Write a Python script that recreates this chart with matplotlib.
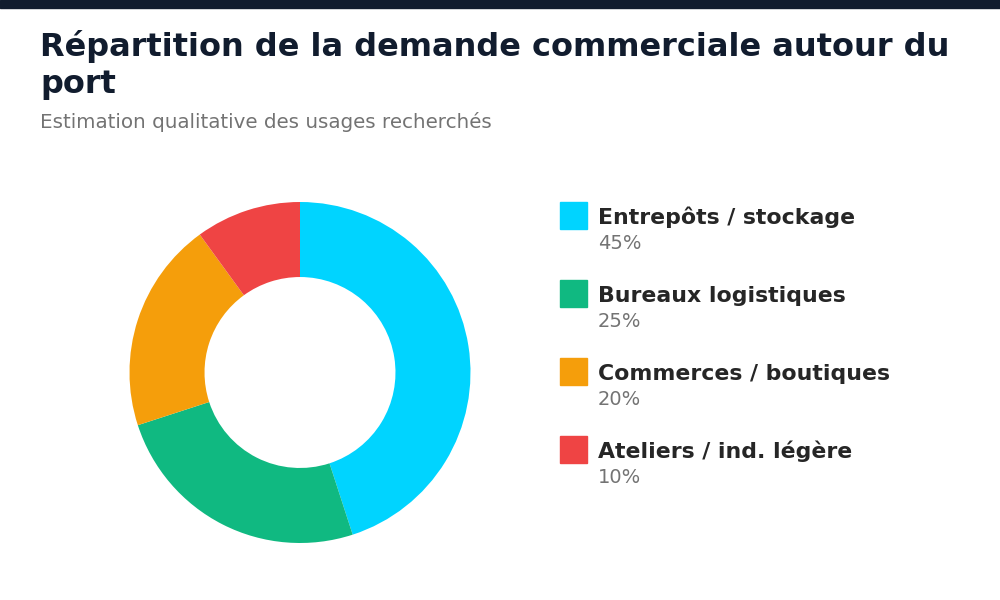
import matplotlib
matplotlib.use("Agg")
import matplotlib.pyplot as plt
from matplotlib.patches import Rectangle

plt.rcParams["font.family"] = ["DejaVu Sans"]

categories = ["Entrepôts / stockage", "Bureaux logistiques", "Commerces / boutiques", "Ateliers / ind. légère"]
values = [45, 25, 20, 10]
colors = ["#00d4ff", "#10b981", "#f59e0b", "#ef4444"]
title_lines = ["Répartition de la demande commerciale autour du", "port"]
subtitle = "Estimation qualitative des usages recherchés"

W, H = 1000, 600
fig = plt.figure(figsize=(10, 6), dpi=100)
fig.patch.set_facecolor("white")

def fx(x):
    return x / W

def fy(y):
    return 1 - y / H

# top bar
fig.patches.append(Rectangle((0, fy(8)), 1, 8 / H, transform=fig.transFigure,
                             color="#111c2e", zorder=5))

fig.text(fx(40), fy(56), title_lines[0],
         fontsize=23, fontweight="bold", color="#111c2e", va="baseline", ha="left")
fig.text(fx(40), fy(93), title_lines[1],
         fontsize=23, fontweight="bold", color="#111c2e", va="baseline", ha="left")
fig.text(fx(40), fy(128), subtitle, fontsize=14.3, color="#737373", va="baseline", ha="left")

# donut
cx, cy, r = 300, 372.5, 170.5
ax = fig.add_axes([fx(cx - r), fy(cy + r), 2 * r / W, 2 * r / H])
ax.pie(values, colors=colors, startangle=90, counterclock=False, radius=1,
       wedgeprops=dict(width=0.44, edgecolor="none", linewidth=0))
ax.set_xlim(-1, 1)
ax.set_ylim(-1, 1)
ax.set_aspect("auto")
ax.axis("off")

# legend
for i, (cat, val, col) in enumerate(zip(categories, values, colors)):
    y0 = 202 + i * 78
    fig.patches.append(Rectangle((fx(560), fy(y0 + 27)), 27 / W, 27 / H,
                                 transform=fig.transFigure, color=col))
    fig.text(fx(598), fy(y0 + 22), cat, fontsize=15.8, fontweight="bold",
             color="#262626", va="baseline", ha="left")
    fig.text(fx(598), fy(y0 + 47), f"{val}%", fontsize=14,
             color="#737373", va="baseline", ha="left")

fig.savefig("out.png", dpi=100, facecolor="white")
